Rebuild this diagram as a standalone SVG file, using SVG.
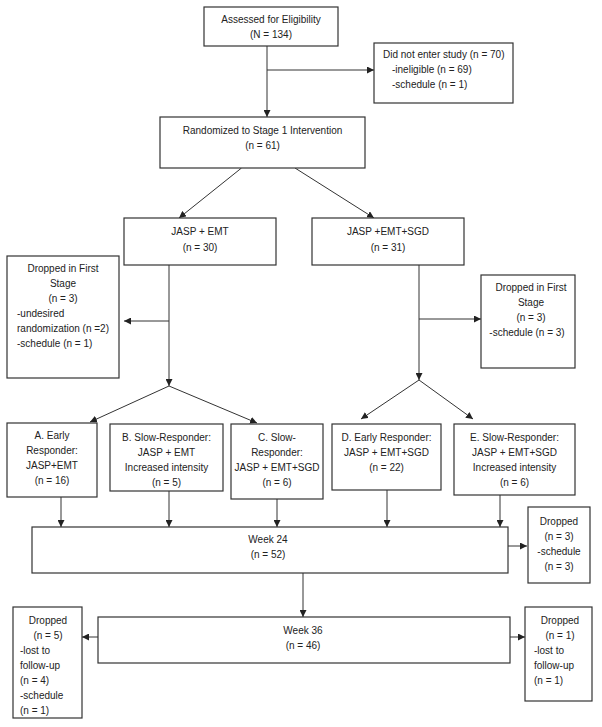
<svg xmlns="http://www.w3.org/2000/svg" width="602" height="727" viewBox="0 0 602 727">
<defs>
<marker id="ah" viewBox="0 0 10 10" refX="10" refY="5" markerWidth="7" markerHeight="7" markerUnits="userSpaceOnUse" orient="auto">
<path d="M0,0 L10,5 L0,10 z" fill="#222"/>
</marker>
<style>
rect{fill:#fff;stroke:#333;stroke-width:1.2}
text{font-family:"Liberation Sans",Arial,sans-serif;font-size:10px;fill:#222}
.c{text-anchor:middle}
#connectors line,#connectors polyline{stroke:#333;stroke-width:1;fill:none}
.a{marker-end:url(#ah)}
</style>
</defs>
<rect x="0" y="0" width="602" height="727" style="fill:#fff;stroke:none"/>
<g id="connectors">
<line class="a" x1="267" y1="46" x2="267" y2="117"/>
<line class="a" x1="267" y1="70" x2="374" y2="70"/>
<line class="a" x1="241.5" y1="168" x2="179" y2="218"/>
<line class="a" x1="295" y1="168" x2="374" y2="218"/>
<line class="a" x1="169" y1="265" x2="169" y2="386"/>
<line class="a" x1="169" y1="321" x2="124" y2="321"/>
<line class="a" x1="169" y1="386" x2="90" y2="422"/>
<line class="a" x1="169" y1="386" x2="257" y2="423"/>
<line class="a" x1="419" y1="265" x2="419" y2="380"/>
<line class="a" x1="419" y1="319" x2="481" y2="319"/>
<line class="a" x1="419" y1="380" x2="361" y2="419"/>
<line class="a" x1="419" y1="380" x2="473" y2="419"/>
<line class="a" x1="61" y1="497" x2="61" y2="527"/>
<line class="a" x1="169" y1="491" x2="169" y2="527"/>
<line class="a" x1="277" y1="499" x2="277" y2="527"/>
<line class="a" x1="387" y1="490" x2="387" y2="527"/>
<line class="a" x1="500" y1="495" x2="500" y2="527"/>
<line class="a" x1="508" y1="546" x2="527" y2="546"/>
<line class="a" x1="303" y1="573" x2="303" y2="617"/>
<line class="a" x1="98" y1="637" x2="82" y2="637"/>
<line class="a" x1="510" y1="637" x2="525" y2="637"/>
</g>
<g id="assessed">
<rect x="204" y="7" width="134" height="39"/>
<text class="c" x="271" y="23">Assessed for Eligibility</text>
<text class="c" x="271" y="38">(N = 134)</text>
</g>
<g id="not-entered">
<rect x="374" y="43" width="139" height="60"/>
<text x="383" y="58">Did not enter study (n = 70)</text>
<text x="392" y="73">-ineligible (n = 69)</text>
<text x="392" y="88">-schedule (n = 1)</text>
</g>
<g id="randomized">
<rect x="160" y="117" width="205" height="51"/>
<text class="c" x="262.5" y="134">Randomized to Stage 1 Intervention</text>
<text class="c" x="262.5" y="149">(n = 61)</text>
</g>
<g id="jasp-emt">
<rect x="124" y="218" width="152" height="47"/>
<text class="c" x="200" y="235">JASP + EMT</text>
<text class="c" x="200" y="251">(n = 30)</text>
</g>
<g id="jasp-emt-sgd">
<rect x="312" y="218" width="152" height="47"/>
<text class="c" x="388" y="235">JASP +EMT+SGD</text>
<text class="c" x="388" y="251">(n = 31)</text>
</g>
<g id="dropped-first-left">
<rect x="7" y="256" width="112" height="122"/>
<text class="c" x="63" y="272">Dropped in First</text>
<text class="c" x="63" y="287">Stage</text>
<text class="c" x="63" y="302">(n = 3)</text>
<text x="17" y="317">-undesired</text>
<text x="17" y="332">randomization (n =2)</text>
<text x="17" y="347">-schedule (n = 1)</text>
</g>
<g id="dropped-first-right">
<rect x="481" y="275" width="94" height="93"/>
<text class="c" x="531" y="291">Dropped in First</text>
<text class="c" x="531" y="306">Stage</text>
<text class="c" x="531" y="321">(n = 3)</text>
<text class="c" x="527" y="336">-schedule (n = 3)</text>
</g>
<g id="a-early">
<rect x="7" y="423" width="90" height="74"/>
<text class="c" x="52" y="439">A. Early</text>
<text class="c" x="52" y="454">Responder:</text>
<text class="c" x="52" y="469">JASP+EMT</text>
<text class="c" x="52" y="484">(n = 16)</text>
</g>
<g id="b-slow">
<rect x="110" y="424" width="113" height="67"/>
<text class="c" x="166.5" y="441">B. Slow-Responder:</text>
<text class="c" x="166.5" y="456">JASP + EMT</text>
<text class="c" x="166.5" y="471">Increased intensity</text>
<text class="c" x="166.5" y="486">(n = 5)</text>
</g>
<g id="c-slow">
<rect x="231" y="424" width="92" height="75"/>
<text class="c" x="277" y="441">C. Slow-</text>
<text class="c" x="277" y="456">Responder:</text>
<text class="c" x="277" y="471">JASP + EMT+SGD</text>
<text class="c" x="277" y="486">(n = 6)</text>
</g>
<g id="d-early">
<rect x="332" y="424" width="109" height="66"/>
<text class="c" x="386.5" y="441">D. Early Responder:</text>
<text class="c" x="386.5" y="456">JASP + EMT+SGD</text>
<text class="c" x="386.5" y="471">(n = 22)</text>
</g>
<g id="e-slow">
<rect x="454" y="424" width="121" height="71"/>
<text class="c" x="514.5" y="441">E. Slow-Responder:</text>
<text class="c" x="514.5" y="456">JASP + EMT+SGD</text>
<text class="c" x="514.5" y="471">Increased intensity</text>
<text class="c" x="514.5" y="486">(n = 6)</text>
</g>
<g id="week24">
<rect x="32" y="527" width="476" height="46"/>
<text class="c" x="268" y="543">Week 24</text>
<text class="c" x="268" y="558">(n = 52)</text>
</g>
<g id="dropped-week24">
<rect x="528" y="507" width="62" height="76"/>
<text class="c" x="559" y="525">Dropped</text>
<text class="c" x="559" y="540">(n = 3)</text>
<text class="c" x="559" y="555">-schedule</text>
<text class="c" x="559" y="570">(n = 3)</text>
</g>
<g id="week36">
<rect x="98" y="617" width="412" height="46"/>
<text class="c" x="303" y="634">Week 36</text>
<text class="c" x="303" y="649">(n = 46)</text>
</g>
<g id="dropped-week36-left">
<rect x="13" y="607" width="69" height="111"/>
<text class="c" x="48" y="624">Dropped</text>
<text class="c" x="48" y="639">(n = 5)</text>
<text x="20" y="654">-lost to</text>
<text x="20" y="669">follow-up</text>
<text x="20" y="684">(n = 4)</text>
<text x="20" y="699">-schedule</text>
<text x="20" y="714">(n = 1)</text>
</g>
<g id="dropped-week36-right">
<rect x="525" y="607" width="67" height="94"/>
<text class="c" x="560" y="624">Dropped</text>
<text class="c" x="560" y="639">(n = 1)</text>
<text x="534" y="654">-lost to</text>
<text x="534" y="669">follow-up</text>
<text x="534" y="684">(n = 1)</text>
</g>
</svg>
